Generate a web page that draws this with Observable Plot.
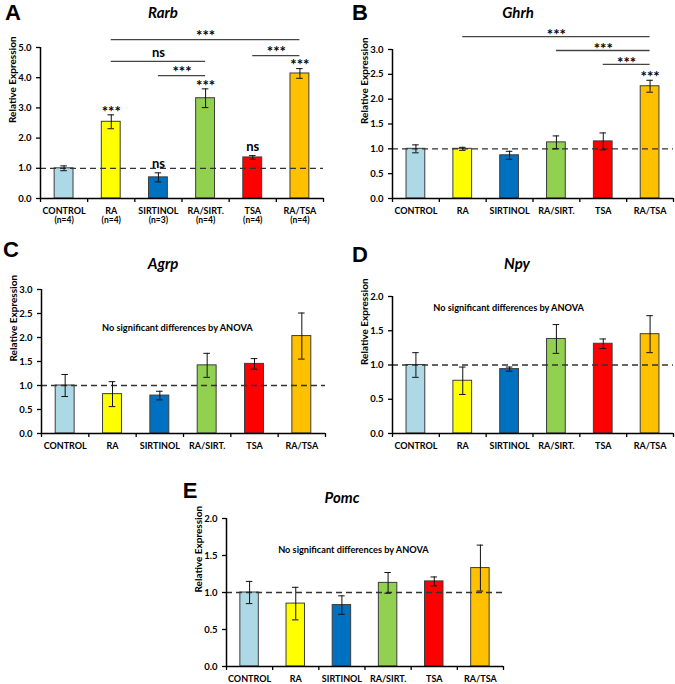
<!DOCTYPE html>
<html><head><meta charset="utf-8">
<script src="https://cdn.jsdelivr.net/npm/d3@7"></script>
<script src="https://cdn.jsdelivr.net/npm/@observablehq/plot@0.6"></script>
<style>
body{margin:0;background:#fff;}
#fig{position:relative;width:675px;height:684px;overflow:hidden;background:#fff;}
.panel{position:absolute;}
.lbl{position:absolute;transform:translate(-50%,-50%);white-space:nowrap;line-height:1;}
.letter{font-family:"Liberation Sans",Arial,sans-serif;font-weight:bold;font-size:22px;color:#000;}
.gene{font-family:Lato,"Open Sans",sans-serif;font-weight:bold;font-style:italic;font-size:15px;color:#000;}
</style></head><body><div id="fig"></div>
<script>
const categories = ["CONTROL", "RA", "SIRTINOL", "RA/SIRT.", "TSA", "RA/TSA"];
const nLabels = ["(n=4)", "(n=4)", "(n=3)", "(n=4)", "(n=4)", "(n=4)"];
const barColors = ["#add8e6", "#ffff00", "#0070c0", "#92d050", "#ff0000", "#ffc000"];

// Panel A: Rarb
const rarbMean = [1.00, 2.54, 0.70, 3.32, 1.36, 4.14];
const rarbErr = [0.08, 0.23, 0.15, 0.31, 0.06, 0.16];
const rarbBarLabels = ["", "***", "ns", "***", "ns", "***"];
const rarbBracketFrom = [1, 1, 2, 4];
const rarbBracketTo = [5, 3, 3, 5];
const rarbBracketY = [5.26, 4.54, 4.07, 4.73];
const rarbBracketLabel = ["***", "ns", "***", "***"];
const rarbTicks = [0, 1, 2, 3, 4, 5];

// Panel B: Ghrh
const ghrhMean = [1.00, 1.00, 0.87, 1.13, 1.15, 2.26];
const ghrhErr = [0.08, 0.03, 0.08, 0.13, 0.17, 0.12];
const ghrhBarLabels = ["", "", "", "", "", "***"];
const ghrhBracketFrom = [1, 3, 4];
const ghrhBracketTo = [5, 5, 5];
const ghrhBracketY = [3.26, 2.98, 2.70];
const ghrhBracketLabel = ["***", "***", "***"];
const ghrhTicks = [0, 0.5, 1, 1.5, 2, 2.5, 3];

// Panel C: Agrp
const agrpMean = [1.00, 0.82, 0.79, 1.42, 1.45, 2.03];
const agrpErr = [0.23, 0.26, 0.09, 0.25, 0.11, 0.48];
const agrpTicks = [0, 0.5, 1, 1.5, 2, 2.5, 3];

// Panel D: Npy
const npyMean = [1.00, 0.77, 0.94, 1.38, 1.31, 1.45];
const npyErr = [0.18, 0.20, 0.03, 0.21, 0.07, 0.27];
const npyTicks = [0, 0.5, 1, 1.5, 2];

// Panel E: Pomc
const pomcMean = [1.00, 0.85, 0.83, 1.13, 1.15, 1.33];
const pomcErr = [0.15, 0.22, 0.125, 0.14, 0.06, 0.31];
const pomcTicks = [0, 0.5, 1, 1.5, 2];

const noteText = "No significant differences by ANOVA";
const yLabel = "Relative Expression";

const fig = document.getElementById("fig");
const FONT = "Lato, 'Open Sans', sans-serif";

function addLabel(text, cls, x, y) {
  const d = document.createElement("div");
  d.className = "lbl " + cls;
  d.textContent = text;
  d.style.left = x + "px";
  d.style.top = y + "px";
  fig.appendChild(d);
}

function sigMarks(data, xFn, yFn, starDy) {
  const stars = data.filter(d => d.lab && d.lab !== "ns");
  const ns = data.filter(d => d.lab === "ns");
  return [
    Plot.text(stars, {x: xFn, y: yFn, text: "lab", dy: starDy, fontSize: 15, fontWeight: "bold"}),
    Plot.text(ns, {x: xFn, y: yFn, text: "lab", dy: -9, fontSize: 13, fontWeight: "bold"})
  ];
}

function panel(o) {
  const rows = categories.map((c, i) => ({
    i, c, m: o.mean[i], e: o.err[i], color: barColors[i],
    lab: o.barLabels ? o.barLabels[i] : "",
    n: o.nLabels ? o.nLabels[i] : ""
  }));
  const br = o.bFrom ? o.bFrom.map((f, k) => ({f, t: o.bTo[k], y: o.bY[k], lab: o.bLab[k]})) : [];
  const marks = [
    Plot.rectY(rows, {x1: d => d.i - 0.2, x2: d => d.i + 0.2, y1: 0, y2: "m", fill: "color", stroke: "#3d3d3d", strokeWidth: 1}),
    Plot.ruleY([1], {stroke: "#333", strokeWidth: 1.3, strokeDasharray: "6,4"}),
    Plot.ruleX(rows, {x: "i", y1: d => d.m - d.e, y2: d => d.m + d.e, stroke: "#111", strokeWidth: 1}),
    Plot.ruleY(rows, {y: d => d.m + d.e, x1: d => d.i - 0.07, x2: d => d.i + 0.07, stroke: "#111", strokeWidth: 1}),
    Plot.ruleY(rows, {y: d => d.m - d.e, x1: d => d.i - 0.07, x2: d => d.i + 0.07, stroke: "#111", strokeWidth: 1}),
    Plot.ruleY([0], {stroke: "#000", strokeWidth: 1.5}),
    Plot.ruleX([-0.5], {stroke: "#000", strokeWidth: 1.5}),
    Plot.axisY({ticks: o.ticks, tickFormat: d3.format(".1f"), tickSize: 4, tickPadding: 5, label: null, fontSize: 9.5, fontWeight: "bold", strokeWidth: 1.3}),
    Plot.axisX({ticks: d3.range(6), tickFormat: i => categories[i], tickSize: 0, tickPadding: 9, label: null, fontSize: 9, fontWeight: "bold"}),
    Plot.axisX({ticks: d3.range(-0.5, 6, 1), tickFormat: () => "", tickSize: 4, label: null, strokeWidth: 1.3}),
    Plot.text([yLabel], {frameAnchor: "left", dx: -o.yLabelDx, rotate: -90, fontSize: 10, fontWeight: "bold"})
  ];
  if (o.nLabels) marks.push(Plot.text(rows, {x: "i", y: 0, text: "n", dy: 22, fontSize: 8.5, fontWeight: "bold"}));
  if (o.barLabels) marks.push(...sigMarks(rows, "i", d => d.m + d.e, -3));
  if (br.length) {
    marks.push(Plot.ruleY(br, {y: "y", x1: "f", x2: "t", stroke: "#444", strokeWidth: 1.3}));
    marks.push(...sigMarks(br, d => (d.f + d.t) / 2, "y", o.bracketDy));
  }
  if (o.note) marks.push(Plot.text([noteText], {x: o.note[0], y: o.note[1], fontSize: 9.2, fontWeight: "bold"}));
  const svg = Plot.plot({
    width: o.width, height: o.height,
    marginLeft: o.ml, marginRight: o.mr, marginTop: o.mt, marginBottom: o.mb,
    x: {type: "linear", domain: [-0.5, 5.5], axis: null},
    y: {domain: [0, o.yMax], axis: null},
    style: {fontFamily: FONT, fontSize: "9px", fontWeight: "bold", color: "#000", background: "transparent", overflow: "visible"},
    marks
  });
  svg.classList.add("panel");
  svg.style.left = o.left + "px";
  svg.style.top = o.top + "px";
  fig.appendChild(svg);
}

panel({left: 0, top: 0, width: 337, height: 232, ml: 40, mr: 14, mt: 47, mb: 34, yMax: 5, ticks: rarbTicks,
  mean: rarbMean, err: rarbErr, barLabels: rarbBarLabels, nLabels: nLabels,
  bFrom: rarbBracketFrom, bTo: rarbBracketTo, bY: rarbBracketY, bLab: rarbBracketLabel, yLabelDx: 28, bracketDy: -3});
panel({left: 337, top: 0, width: 338, height: 225, ml: 55, mr: 2, mt: 49, mb: 27, yMax: 3, ticks: ghrhTicks,
  mean: ghrhMean, err: ghrhErr, barLabels: ghrhBarLabels,
  bFrom: ghrhBracketFrom, bTo: ghrhBracketTo, bY: ghrhBracketY, bLab: ghrhBracketLabel, yLabelDx: 28, bracketDy: -1});
panel({left: 0, top: 225, width: 337, height: 230, ml: 41, mr: 12, mt: 64, mb: 22, yMax: 3, ticks: agrpTicks,
  mean: agrpMean, err: agrpErr, note: [2.37, 2.2], yLabelDx: 28});
panel({left: 337, top: 225, width: 338, height: 230, ml: 55, mr: 2, mt: 71, mb: 22, yMax: 2, ticks: npyTicks,
  mean: npyMean, err: npyErr, note: [1.98, 1.83], yLabelDx: 28});
panel({left: 160, top: 450, width: 360, height: 234, ml: 66, mr: 17, mt: 68, mb: 18, yMax: 2, ticks: pomcTicks,
  mean: pomcMean, err: pomcErr, note: [2.25, 1.57], yLabelDx: 28});

addLabel("A", "letter", 13, 13);
addLabel("Rarb", "gene", 163, 12);
addLabel("B", "letter", 360, 13);
addLabel("Ghrh", "gene", 518, 12);
addLabel("C", "letter", 11, 250);
addLabel("Agrp", "gene", 163, 263);
addLabel("D", "letter", 360, 255);
addLabel("Npy", "gene", 517, 263);
addLabel("E", "letter", 190, 491);
addLabel("Pomc", "gene", 342, 497);
</script></body></html>
